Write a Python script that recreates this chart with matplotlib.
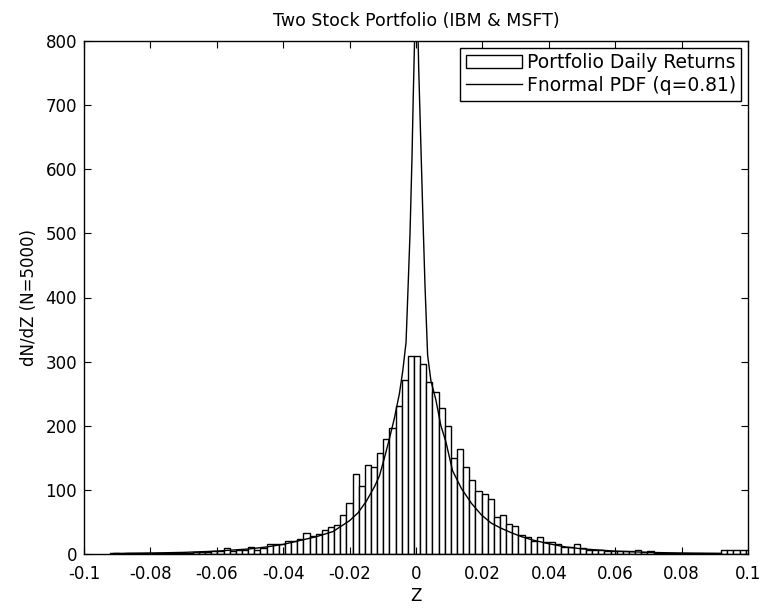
import numpy as np
import matplotlib
matplotlib.use("Agg")
import matplotlib.pyplot as plt
from matplotlib.patches import Rectangle
from matplotlib.lines import Line2D

# ---- data ----
bin_start = -0.09125
bin_width = 0.00185
bar_heights = [
    2, 0, 1, 1, 1, 1, 1, 1, 1, 1, 1, 2, 2,          # k=-49..-37
    3, 3, 3, 4, 5, 10, 4, 6, 7, 11, 7, 9,           # k=-36..-25
    15, 15, 15, 21, 20, 23, 33, 28, 31, 38, 42, 46,  # k=-24..-13
    61, 80, 124, 106, 139, 136, 157, 180, 197, 231, 272, 309,  # k=-12..-1
    309, 296, 268, 253, 228, 200, 149, 163, 135, 115, 98, 93,  # k=0..11
    86, 57, 61, 47, 44, 30, 27, 21, 27, 19, 18, 15,  # k=12..23
    11, 11, 16, 10, 7, 7, 6, 5, 5, 4, 4, 5,          # k=24..35
    7, 3, 5, 2, 2, 1, 1, 1, 1, 1, 1, 1, 1, 1,       # k=36..49
    7, 7, 7, 7, 7,                                   # k=50..54
]

pdf_z = [-0.092, -0.08, -0.07, -0.06, -0.05, -0.045, -0.04, -0.035, -0.03,
         -0.025, -0.02, -0.0175, -0.015, -0.0125, -0.011, -0.0095, -0.008,
         -0.0065, -0.005, -0.004, -0.003, -0.0025, -0.0018, -0.0012, -0.0008,
         -0.0003, 0.00025, 0.0008, 0.0014, 0.002, 0.0027, 0.0035, 0.0045,
         0.006, 0.0075, 0.009, 0.011, 0.0137, 0.0167, 0.0197, 0.0227, 0.0257,
         0.0288, 0.0318, 0.035, 0.04, 0.045, 0.05, 0.06, 0.07, 0.08, 0.092]
pdf_y = [0.8, 1.5, 2.5, 4.5, 8, 11, 15, 21, 27,
         35, 52, 64, 82, 105, 122, 150, 180,
         212, 250, 285, 330, 400, 500, 620, 720,
         830, 900, 760, 650, 540, 420, 310, 270,
         240, 200, 175, 130, 102, 79, 61, 48, 40,
         33, 27, 22, 16, 11, 8, 4.5, 2.5, 1.5, 0.8]

x_ticks = [-0.1, -0.08, -0.06, -0.04, -0.02, 0, 0.02, 0.04, 0.06, 0.08, 0.1]
x_tick_labels = ["-0.1", "-0.08", "-0.06", "-0.04", "-0.02", "0", "0.02",
                 "0.04", "0.06", "0.08", "0.1"]
y_ticks = [0, 100, 200, 300, 400, 500, 600, 700, 800]

# ---- figure ----
plt.rcParams['font.family'] = ['DejaVu Sans']
fig = plt.figure(figsize=(7.61, 6.08), dpi=100)
ax = fig.add_axes([84 / 761, 1 - 554 / 608, (748 - 84) / 761, (554 - 41) / 608])

lefts = bin_start + bin_width * np.arange(len(bar_heights))
ax.bar(lefts, bar_heights, width=bin_width, align='edge', facecolor='white',
       edgecolor='black', linewidth=1.0)
ax.plot(pdf_z, pdf_y, color='black', linewidth=1.0)

ax.set_xlim(-0.1, 0.1)
ax.set_ylim(0, 800)
ax.set_xticks(x_ticks)
ax.set_xticklabels(x_tick_labels)
ax.set_yticks(y_ticks)
ax.tick_params(direction='in', top=True, right=True, length=5, labelsize=12,
               width=0.8)
ax.tick_params(axis='x', pad=8)
ax.tick_params(axis='y', pad=5)
for s in ax.spines.values():
    s.set_linewidth(1.0)

ax.set_title("Two Stock Portfolio (IBM & MSFT)", fontsize=12.5, pad=11)
ax.set_xlabel("Z", fontsize=12, labelpad=3)
ax.set_ylabel("dN/dZ (N=5000)", fontsize=12, labelpad=5)

handles = [Rectangle((0, 0), 1, 1, facecolor='white', edgecolor='black', linewidth=1.0),
           Line2D([0], [0], color='black', linewidth=1.0)]
leg = ax.legend(handles, ["Portfolio Daily Returns", "Fnormal PDF (q=0.81)"],
                loc='upper right', fontsize=13.5, fancybox=False, framealpha=1,
                edgecolor='black', borderaxespad=0.35, handlelength=3.0,
                handletextpad=0.25, borderpad=0.3, labelspacing=0.2)
leg.get_frame().set_linewidth(1.0)

fig.savefig("out.png", dpi=100)
